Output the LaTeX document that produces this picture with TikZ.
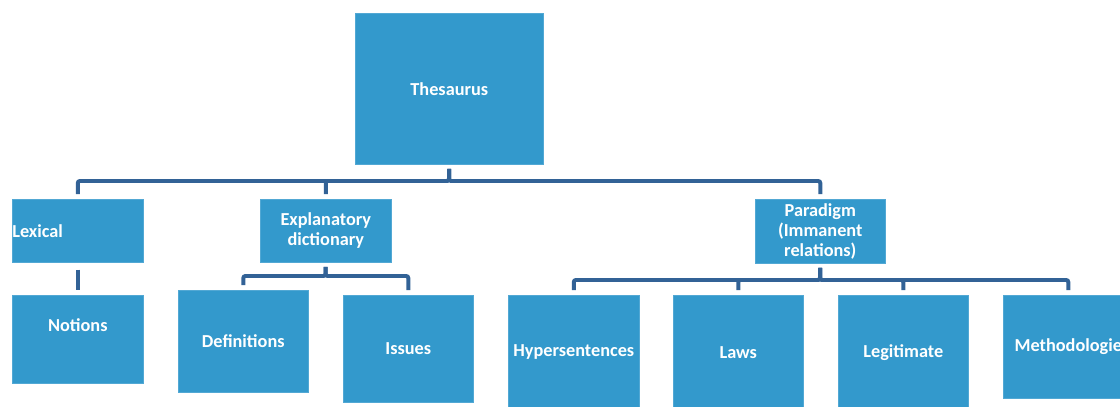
\documentclass[tikz,border=0pt]{standalone}
\usepackage{fontspec}
\setmainfont{Carlito}
\usepackage{tikz}
\definecolor{boxblue}{RGB}{51,153,204}
\definecolor{linkblue}{RGB}{50,98,150}

\begin{document}
\begin{tikzpicture}[x=0.025cm, y=-0.025cm,
  every node/.style={font=\bfseries\fontsize{13}{14.2}\selectfont, text=white},
  box/.style={fill=boxblue, draw=boxblue!85!white, line width=0.4pt, anchor=north west, inner sep=0pt, align=center},
  link/.style={draw=linkblue, line width=2.8pt, rounded corners=1.5pt, shorten <=3pt, shorten >=3.5pt}]
\useasboundingbox (0,0) rectangle (1120,407);
\clip (0,0) rectangle (1120,407);
% top level
\node[box, minimum width=4.7cm, minimum height=3.775cm] (thes) at (355,13) {Thesaurus};
% second level
\node[box, text width=3.275cm, minimum height=1.575cm, align=left] (lex) at (12,199) {Lexical};
\node[box, minimum width=3.275cm, minimum height=1.575cm] (expl) at (260,199) {Explanatory\\dictionary};
\node[box, minimum width=3.25cm, minimum height=1.6cm] (para) at (755,199) {Paradigm\\(Immanent\\relations)};
% third level
\node[box, minimum width=3.275cm, text height=25.5pt, text depth=37.1pt] (notions) at (12,295) {Notions};
\node[box, minimum width=3.25cm, minimum height=2.55cm] (defs) at (178,290) {Definitions};
\node[box, minimum width=3.25cm, minimum height=2.675cm] (issues) at (343,295) {Issues};
\node[box, minimum width=3.275cm, minimum height=2.85cm] (hyper) at (508,295) {Hypersentences};
\node[box, minimum width=3.25cm, minimum height=2.85cm] (laws) at (673,295) {Laws};
\node[box, minimum width=3.25cm, minimum height=2.85cm] (legit) at (838,295) {Legitimate};
\node[box, minimum width=3.25cm, minimum height=2.575cm] (meth) at (1003,295) {Methodologie};
% connectors
\coordinate (bus1) at (449,181);
\coordinate (bus2) at (325.5,276);
\coordinate (bus3) at (820,280);
\draw[link] (thes.south) -- (bus1) -| (lex.north);
\draw[link] (thes.south) -- (bus1) -| (expl.north);
\draw[link] (thes.south) -- (bus1) -| (para.north);
\draw[link, shorten <=5pt] (lex.south) -- (notions.north);
\draw[link] (expl.south) -- (bus2) -| (defs.north);
\draw[link] (expl.south) -- (bus2) -| (issues.north);
\draw[link] (para.south) -- (bus3) -| (hyper.north);
\draw[link] (para.south) -- (bus3) -| (laws.north);
\draw[link] (para.south) -- (bus3) -| (legit.north);
\draw[link] (para.south) -- (bus3) -| (meth.north);
\end{tikzpicture}
\end{document}
